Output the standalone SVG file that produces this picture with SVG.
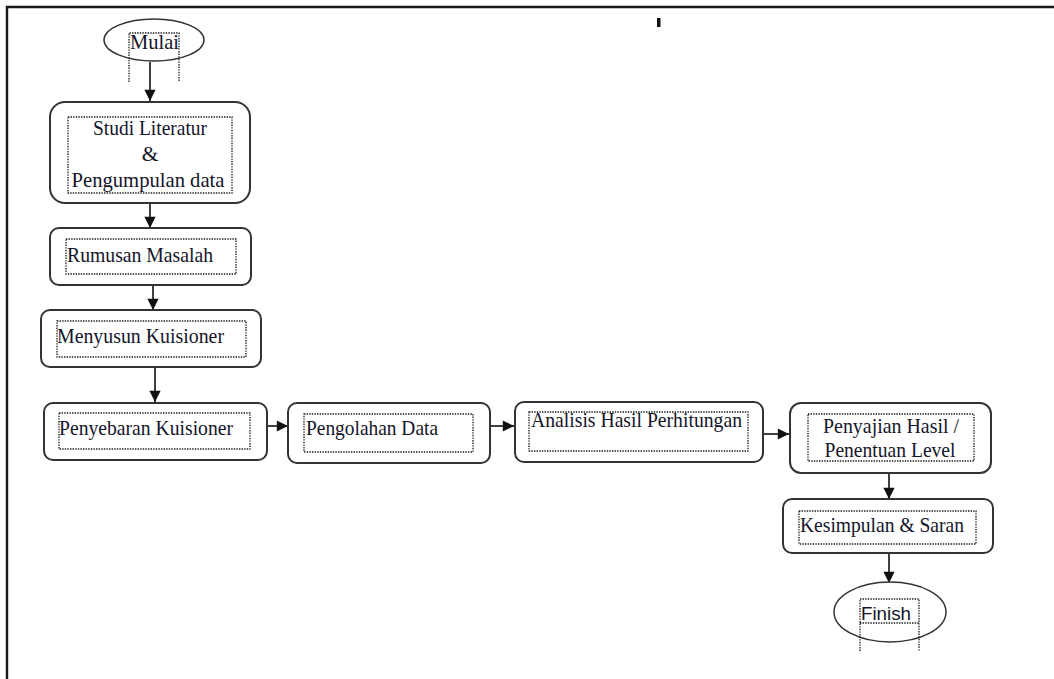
<svg xmlns="http://www.w3.org/2000/svg" width="1054" height="679" viewBox="0 0 1054 679">
  <style>
    .box { fill: #ffffff; stroke: #333333; stroke-width: 2; }
    .term { fill: #ffffff; stroke: #333333; stroke-width: 1.5; }
    .dot { fill: none; stroke: #1a1a1a; stroke-width: 1.3; stroke-dasharray: 1.4 1.2; }
    .lbl { font-family: "Liberation Serif", "Times New Roman", serif; font-size: 21.5px; fill: #15152a; }
    .lbl-sans { font-family: "Liberation Sans", Arial, sans-serif; font-size: 19px; fill: #15152a; }
    .conn { fill: none; stroke: #111111; stroke-width: 1.6; marker-end: url(#arrow); }
    .frame { fill: none; stroke: #1a1a1a; stroke-width: 2.4; }
  </style>
  <defs>
    <marker id="arrow" viewBox="0 0 10 10" refX="10" refY="5" markerWidth="7.5" markerHeight="7" markerUnits="strokeWidth" orient="auto">
      <path d="M0,0 L10,5 L0,10 z" fill="#111111"/>
    </marker>
  </defs>

  <rect width="1054" height="679" fill="#ffffff"/>

  <!-- page frame -->
  <path class="frame" d="M7,679 L7,7 L1054,7"/>
  <rect x="657" y="18" width="3.5" height="9" fill="#111111"/>

  <!-- connectors -->
  <g id="connectors">
    <line class="conn" x1="150" y1="62" x2="150" y2="101"/>
    <line class="conn" x1="150" y1="203" x2="150" y2="228"/>
    <line class="conn" x1="153" y1="285" x2="153" y2="310"/>
    <line class="conn" x1="155" y1="367" x2="155" y2="402"/>
    <line class="conn" x1="267" y1="426" x2="288" y2="426"/>
    <line class="conn" x1="490" y1="426" x2="514" y2="426"/>
    <line class="conn" x1="763" y1="434" x2="789" y2="434"/>
    <line class="conn" x1="889" y1="473" x2="889" y2="499"/>
    <line class="conn" x1="889" y1="553" x2="889" y2="583"/>
  </g>

  <!-- start -->
  <g id="node-mulai">
    <ellipse class="term" cx="154" cy="40" rx="50" ry="21"/>
    <path class="dot" d="M129,82 L129,33 L179,33 L179,82"/>
    <text class="lbl" x="130" y="49" font-size="18" textLength="49" lengthAdjust="spacingAndGlyphs">Mulai</text>
  </g>

  <g id="node-studi">
    <rect class="box" x="50" y="102" width="200" height="101" rx="15"/>
    <rect class="dot" x="68" y="117" width="164" height="76"/>
    <text class="lbl" x="150" y="135" text-anchor="middle" textLength="114" lengthAdjust="spacingAndGlyphs">Studi Literatur</text>
    <text class="lbl" x="150" y="161" text-anchor="middle">&amp;</text>
    <text class="lbl" x="148" y="187" text-anchor="middle" textLength="153" lengthAdjust="spacingAndGlyphs">Pengumpulan data</text>
  </g>

  <g id="node-rumusan">
    <rect class="box" x="50" y="228" width="201" height="57" rx="9"/>
    <rect class="dot" x="66" y="239" width="170" height="35"/>
    <text class="lbl" x="67" y="262" textLength="146" lengthAdjust="spacingAndGlyphs">Rumusan Masalah</text>
  </g>

  <g id="node-menyusun">
    <rect class="box" x="41" y="310" width="220" height="57" rx="9"/>
    <rect class="dot" x="57" y="321" width="189" height="36"/>
    <text class="lbl" x="57" y="343" textLength="167" lengthAdjust="spacingAndGlyphs">Menyusun Kuisioner</text>
  </g>

  <g id="node-penyebaran">
    <rect class="box" x="44" y="403" width="223" height="57" rx="9"/>
    <rect class="dot" x="59" y="413" width="191" height="36"/>
    <text class="lbl" x="59" y="435" textLength="174" lengthAdjust="spacingAndGlyphs">Penyebaran Kuisioner</text>
  </g>

  <g id="node-pengolahan">
    <rect class="box" x="288" y="403" width="202" height="60" rx="9"/>
    <rect class="dot" x="304" y="414" width="169" height="38"/>
    <text class="lbl" x="306" y="435" textLength="132" lengthAdjust="spacingAndGlyphs">Pengolahan Data</text>
  </g>

  <g id="node-analisis">
    <rect class="box" x="515" y="402" width="248" height="60" rx="9"/>
    <rect class="dot" x="529" y="412" width="219" height="39"/>
    <text class="lbl" x="531" y="427" textLength="211" lengthAdjust="spacingAndGlyphs">Analisis Hasil Perhitungan</text>
  </g>

  <g id="node-penyajian">
    <rect class="box" x="790" y="403" width="201" height="70" rx="11"/>
    <rect class="dot" x="808" y="414" width="166" height="47"/>
    <text class="lbl" x="891" y="433" text-anchor="middle" textLength="136" lengthAdjust="spacingAndGlyphs">Penyajian Hasil /</text>
    <text class="lbl" x="890" y="457" text-anchor="middle" textLength="131" lengthAdjust="spacingAndGlyphs">Penentuan Level</text>
  </g>

  <g id="node-kesimpulan">
    <rect class="box" x="783" y="499" width="210" height="54" rx="9"/>
    <rect class="dot" x="799" y="511" width="177" height="33"/>
    <text class="lbl" x="800" y="532" textLength="164" lengthAdjust="spacingAndGlyphs">Kesimpulan &amp; Saran</text>
  </g>

  <!-- end -->
  <g id="node-finish">
    <ellipse class="term" cx="890" cy="612" rx="56" ry="30"/>
    <path class="dot" d="M860,651 L860,599 L919,599 L919,651 M860,623 L919,623"/>
    <text class="lbl-sans" x="861" y="620" textLength="50" lengthAdjust="spacingAndGlyphs">Finish</text>
  </g>
</svg>
